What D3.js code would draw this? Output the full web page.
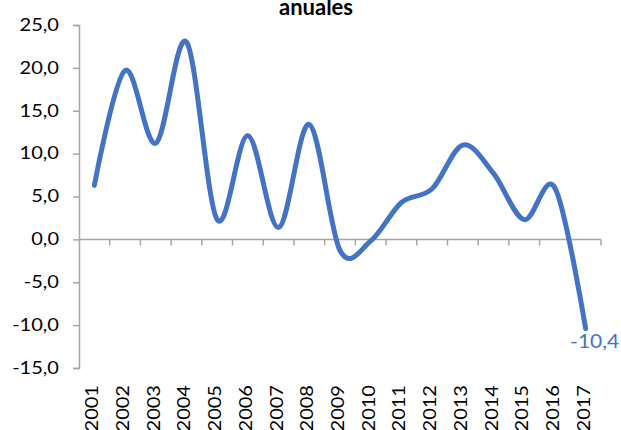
<!DOCTYPE html>
<html>
<head>
<meta charset="utf-8">
<script src="https://cdn.jsdelivr.net/npm/d3@7"></script>
<style>
  body { margin: 0; background: #fff; }
  svg text { font-family: Lato, "Open Sans", sans-serif; }
</style>
</head>
<body>
<svg id="chart" width="621" height="430"></svg>
<script>
// Annual variation series
const years = ["2001","2002","2003","2004","2005","2006","2007","2008","2009","2010","2011","2012","2013","2014","2015","2016","2017"];
const values = [6.3, 19.7, 11.2, 23.0, 2.3, 12.1, 1.4, 13.4, -1.3, -0.2, 4.3, 5.9, 11.0, 7.7, 2.3, 6.0, -10.4];
const yTicks = [25, 20, 15, 10, 5, 0, -5, -10, -15];
const titleText = "anuales";

const svg = d3.select("#chart");
const plotLeft = 79, plotRight = 601, plotTop = 25, plotBottom = 368;
const axisColor = "#a6a6a6";
const lineColor = "#4472c4";
const tickFont = 16.7, stretch = 1.2;
const fmt = v => d3.format(".1f")(v).replace(".", ",").replace("−", "-");

const x = d3.scaleBand().domain(years).range([plotLeft, plotRight]);
const y = d3.scaleLinear().domain([-15, 25]).range([plotBottom, plotTop]);

// Title
svg.append("text")
  .attr("x", 316).attr("y", 15)
  .attr("text-anchor", "middle")
  .attr("font-weight", "bold")
  .attr("font-size", 22)
  .attr("fill", "#000")
  .text(titleText);

// Y axis
const yAxis = svg.append("g")
  .attr("transform", `translate(${plotLeft},0)`)
  .call(d3.axisLeft(y).tickValues(yTicks).tickSize(6).tickFormat(fmt));
yAxis.select(".domain").attr("stroke", axisColor).attr("stroke-width", 1.5);
yAxis.selectAll(".tick line").attr("stroke", axisColor).attr("stroke-width", 1.5);
yAxis.selectAll(".tick text")
  .attr("x", 0)
  .attr("transform", `translate(-20,0) scale(${stretch},1)`)
  .attr("font-size", tickFont)
  .attr("fill", "#000");

// X axis along zero, ticks at category boundaries
const xg = svg.append("g").attr("transform", `translate(0,${y(0)})`);
xg.append("line")
  .attr("x1", plotLeft).attr("x2", plotRight)
  .attr("stroke", axisColor).attr("stroke-width", 1.5);
const bounds = years.map(d => x(d)).concat([x(years[years.length - 1]) + x.bandwidth()]);
xg.selectAll("line.tk").data(bounds.slice(1)).join("line")
  .attr("class", "tk")
  .attr("x1", d => d).attr("x2", d => d)
  .attr("y1", 0).attr("y2", 6)
  .attr("stroke", axisColor).attr("stroke-width", 1.5);

// Year labels, rotated, below the plot
svg.append("g").selectAll("text").data(years).join("text")
  .attr("transform", d => `translate(${x(d) + x.bandwidth() / 2 + 4},385) rotate(-90) scale(${stretch},1)`)
  .attr("text-anchor", "end")
  .attr("font-size", tickFont)
  .attr("fill", "#000")
  .text(d => d);

// Smoothed line
const line = d3.line()
  .x((d, i) => x(years[i]) + x.bandwidth() / 2)
  .y(d => y(d))
  .curve(d3.curveCardinal.tension(0));
svg.append("path")
  .datum(values)
  .attr("d", line)
  .attr("fill", "none")
  .attr("stroke", lineColor)
  .attr("stroke-width", 5)
  .attr("stroke-linecap", "round")
  .attr("stroke-linejoin", "round");

// Label on the last point
const last = values.length - 1;
svg.append("text")
  .attr("transform", `translate(${x(years[last]) + x.bandwidth() / 2 + 9},${y(values[last]) + 19.5}) scale(1.05,1)`)
  .attr("text-anchor", "middle")
  .attr("font-size", 20)
  .attr("fill", lineColor)
  .text(fmt(values[last]));
</script>
</body>
</html>
